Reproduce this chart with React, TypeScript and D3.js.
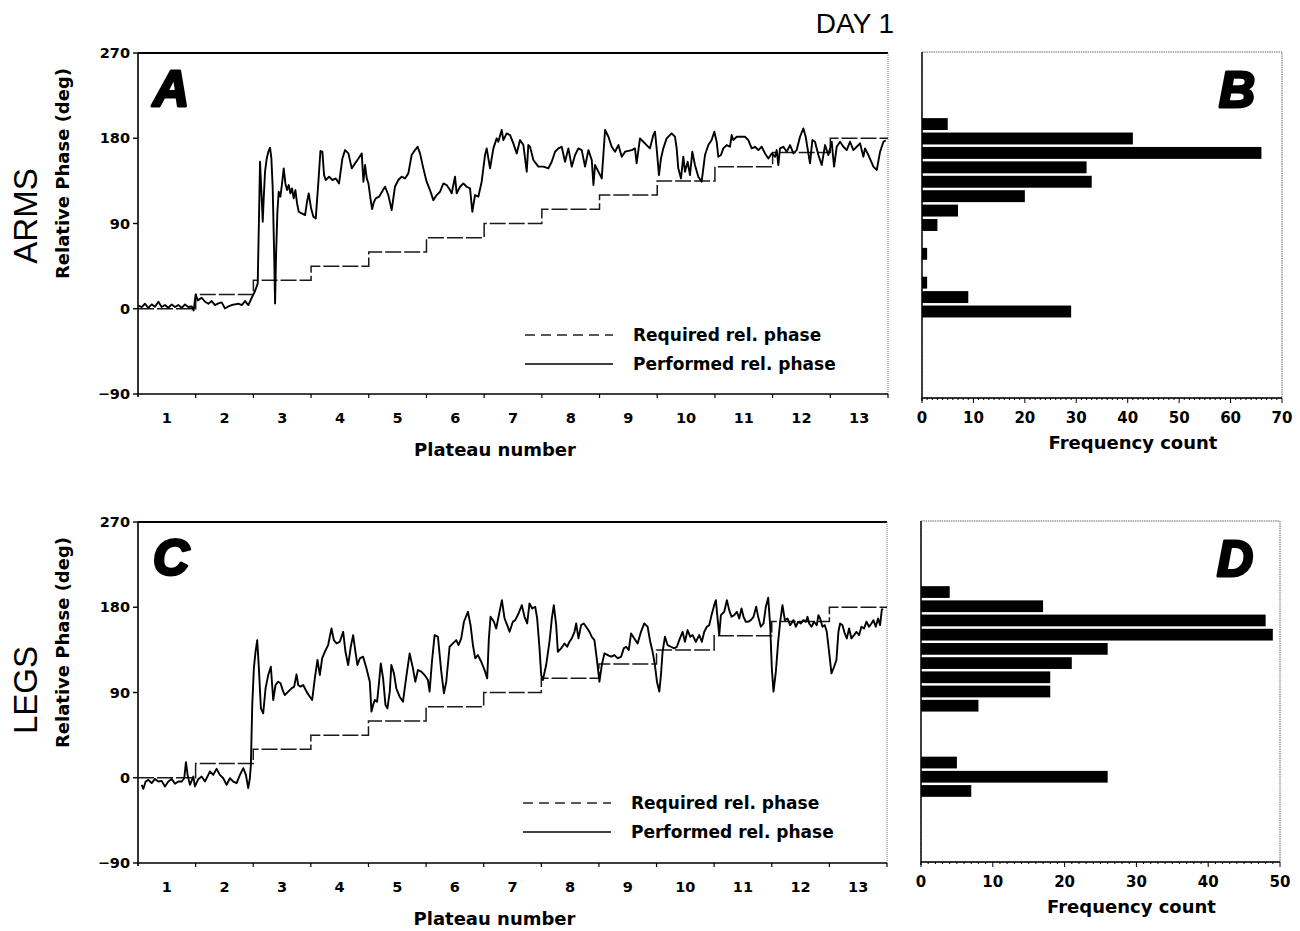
import React from 'react';
import * as d3 from 'd3';

// Plateau numbers and required relative phase (deg) for each plateau
const plateauNumbers = [1, 2, 3, 4, 5, 6, 7, 8, 9, 10, 11, 12, 13];
const requiredPhase = [0, 15, 30, 45, 60, 75, 90, 105, 120, 135, 150, 165, 180];
const phaseTicks = [-90, 0, 90, 180, 270];

// Performed relative phase, [plateau position, deg]
const armsPerformed: [number, number][] = [
  [0.006, 3.2], [0.064, 1.8], [0.121, 5.3], [0.179, 1.0], [0.237, 4.6], [0.295, 2.1], [0.353, 7.4], [0.41, 1.8],
  [0.468, 3.9], [0.526, 1.0], [0.584, 4.6], [0.642, 1.8], [0.699, 3.9], [0.757, 1.0], [0.815, 4.6], [0.873, 1.8],
  [0.931, 2.4], [0.965, -1.8], [1.0, 15.1], [1.035, 8.8], [1.104, 11.6], [1.162, 7.4], [1.22, 5.3], [1.277, 8.1],
  [1.335, 3.9], [1.393, 5.6], [1.451, 6.7], [1.509, 0.3], [1.566, 2.4], [1.624, 3.9], [1.682, 4.6], [1.74, 5.3],
  [1.798, 3.9], [1.855, 8.1], [1.913, 3.9], [1.971, 11.6], [2.029, 18.7], [2.075, 26.7], [2.098, 98.9], [2.115, 155.2],
  [2.139, 123.5], [2.162, 91.9], [2.179, 116.5], [2.202, 144.7], [2.231, 158.7], [2.26, 165.8], [2.289, 170], [2.312, 158.7],
  [2.335, 127.1], [2.358, 63.7], [2.376, 5.6], [2.393, 56.7], [2.416, 102.4], [2.439, 123.5], [2.468, 118.3], [2.497, 132.3],
  [2.526, 148.2], [2.555, 132.3], [2.584, 125.3], [2.613, 130.6], [2.641, 121.8], [2.67, 127.1], [2.699, 116.5], [2.728, 125.3],
  [2.757, 111.2], [2.786, 102.4], [2.838, 100.7], [2.896, 98.9], [2.93, 113], [2.959, 121.8], [3.0, 106], [3.04, 97.1],
  [3.081, 95.4], [3.127, 134.1], [3.162, 166.5], [3.196, 165.8], [3.225, 141.1], [3.254, 135.9], [3.312, 139.4], [3.37, 135.9],
  [3.428, 137.6], [3.485, 132.3], [3.543, 158.7], [3.589, 167.5], [3.647, 164], [3.705, 148.2], [3.763, 153.5], [3.821, 158.7],
  [3.878, 164], [3.907, 134.1], [3.936, 151.7], [3.965, 137.6], [3.994, 132.3], [4.029, 116.5], [4.058, 105.2], [4.087, 112.3],
  [4.121, 116.5], [4.179, 118.3], [4.237, 124.2], [4.283, 128.8], [4.339, 120], [4.397, 104.2], [4.454, 128.8], [4.512, 135.9],
  [4.57, 139.4], [4.628, 137.6], [4.686, 142.9], [4.743, 162.3], [4.801, 167.5], [4.847, 171], [4.888, 164], [4.946, 148.2],
  [5.003, 134.1], [5.061, 125.3], [5.119, 114.7], [5.177, 120], [5.235, 123.5], [5.293, 132.3], [5.35, 130.6], [5.408, 125.3],
  [5.437, 121.8], [5.495, 139.4], [5.524, 121.8], [5.582, 128.8], [5.639, 132.3], [5.697, 128.8], [5.755, 127.1], [5.795, 102.4],
  [5.842, 120], [5.899, 118.3], [5.957, 134.1], [6.015, 162.3], [6.044, 169.3], [6.102, 148.2], [6.16, 169.3], [6.217, 179.9],
  [6.246, 176.3], [6.304, 188.7], [6.333, 178.1], [6.391, 185.1], [6.449, 183.4], [6.506, 174.6], [6.564, 164], [6.622, 178.1],
  [6.68, 172.8], [6.738, 144.7], [6.766, 172.8], [6.795, 171], [6.853, 157], [6.94, 150], [7.027, 150], [7.113, 148.2],
  [7.171, 155.2], [7.229, 165.8], [7.287, 169.3], [7.344, 171], [7.402, 155.2], [7.46, 169.3], [7.518, 150], [7.576, 162.3],
  [7.633, 169.3], [7.691, 167.5], [7.749, 150], [7.807, 167.5], [7.865, 157], [7.894, 130.6], [7.922, 151.7], [7.98, 144.7],
  [8.038, 137.6], [8.096, 188.7], [8.154, 181.6], [8.211, 171], [8.269, 165.8], [8.327, 172.8], [8.385, 160.5], [8.443, 165.8],
  [8.558, 167.5], [8.614, 169.3], [8.643, 153.5], [8.701, 179.9], [8.759, 176.3], [8.816, 172.8], [8.874, 169.3], [8.932, 183.4],
  [8.961, 186.9], [8.99, 169.3], [9.03, 141.1], [9.065, 158.7], [9.105, 169.3], [9.163, 179.9], [9.25, 185.1], [9.308, 181.6],
  [9.337, 169.3], [9.365, 148.2], [9.412, 137.6], [9.452, 160.5], [9.481, 144.7], [9.527, 155.2], [9.568, 141.1], [9.608, 165.8],
  [9.654, 151.7], [9.712, 139.4], [9.77, 134.1], [9.828, 162.3], [9.886, 172.8], [9.943, 178.1], [9.99, 186.9], [10.03, 176.3],
  [10.059, 160.5], [10.105, 162.3], [10.146, 169.3], [10.204, 172.8], [10.261, 171], [10.29, 183.4], [10.319, 178.1], [10.377, 181.6],
  [10.435, 181.6], [10.521, 181.6], [10.579, 178.1], [10.637, 169.3], [10.695, 171], [10.753, 167.5], [10.81, 171], [10.868, 164],
  [10.926, 158.7], [10.984, 164], [11.042, 160.5], [11.071, 167.5], [11.099, 151.7], [11.128, 169.3], [11.186, 171], [11.244, 165.8],
  [11.302, 172.8], [11.36, 164], [11.417, 167.5], [11.475, 181.6], [11.533, 190.4], [11.573, 181.6], [11.62, 164], [11.648, 153.5],
  [11.689, 178.1], [11.735, 176.3], [11.793, 162.3], [11.851, 151.7], [11.909, 172.8], [11.966, 162.3], [12.024, 176.3], [12.065, 150],
  [12.111, 171], [12.169, 176.3], [12.227, 171], [12.284, 167.5], [12.342, 176.3], [12.4, 167.5], [12.458, 171], [12.516, 174.6],
  [12.573, 160.5], [12.602, 169.3], [12.66, 162.3], [12.747, 150], [12.805, 146.4], [12.863, 165.8], [12.92, 176.3], [12.961, 177.7],
];

const legsPerformed: [number, number][] = [
  [0.064, -7.5], [0.093, -11.7], [0.133, -4.0], [0.179, -2.2], [0.237, -5.7], [0.295, -1.2], [0.353, -4.0], [0.41, -3.3],
  [0.468, -9.2], [0.526, -4.0], [0.584, -1.2], [0.642, -6.4], [0.699, -4.0], [0.757, -4.0], [0.803, -0.5], [0.832, 16.4],
  [0.861, 3.0], [0.902, -7.5], [0.96, 1.3], [0.988, -9.2], [1.046, -1.5], [1.104, 1.3], [1.162, -4.0], [1.22, 3.0],
  [1.249, 6.6], [1.306, 3.0], [1.364, 9.4], [1.422, 3.0], [1.48, -0.5], [1.538, -7.5], [1.595, -0.5], [1.653, -4.0],
  [1.711, -5.7], [1.769, 3.0], [1.827, 10.1], [1.873, 3.0], [1.913, -11.0], [1.942, -0.5], [1.959, 13.6], [1.983, 76.8],
  [2.011, 115.5], [2.04, 133.0], [2.069, 145.3], [2.098, 115.5], [2.133, 73.3], [2.173, 68.0], [2.214, 94.4], [2.26, 108.4],
  [2.306, 117.2], [2.347, 82.1], [2.387, 97.9], [2.433, 101.4], [2.474, 99.7], [2.52, 90.9], [2.549, 87.4], [2.607, 90.9],
  [2.665, 94.4], [2.711, 96.2], [2.751, 109.2], [2.78, 97.9], [2.821, 96.2], [2.867, 97.9], [2.925, 90.9], [2.983, 85.6],
  [3.023, 82.1], [3.069, 104.9], [3.115, 124.3], [3.156, 108.4], [3.196, 126.0], [3.243, 133.0], [3.3, 140.1], [3.358, 157.6],
  [3.399, 145.3], [3.445, 141.8], [3.503, 143.6], [3.561, 154.1], [3.601, 133.0], [3.647, 119.0], [3.693, 138.3], [3.734, 150.6],
  [3.774, 133.0], [3.809, 119.0], [3.85, 126.0], [3.907, 127.8], [3.965, 115.5], [4.023, 101.4], [4.052, 69.8], [4.081, 76.8],
  [4.11, 82.1], [4.15, 80.3], [4.185, 101.4], [4.214, 120.7], [4.254, 104.9], [4.295, 76.8], [4.329, 73.3], [4.37, 90.9],
  [4.397, 119.0], [4.443, 110.2], [4.483, 94.4], [4.541, 85.6], [4.599, 80.3], [4.657, 106.7], [4.715, 131.3], [4.772, 115.5],
  [4.813, 101.4], [4.859, 113.7], [4.917, 112.0], [4.975, 108.4], [5.032, 103.2], [5.061, 90.9], [5.102, 122.5], [5.148, 150.6],
  [5.206, 148.8], [5.264, 112.0], [5.31, 89.1], [5.35, 101.4], [5.408, 138.3], [5.466, 141.8], [5.524, 145.3], [5.564, 140.1],
  [5.61, 147.1], [5.657, 164.7], [5.726, 175.2], [5.772, 161.1], [5.813, 140.1], [5.853, 126.0], [5.899, 129.5], [5.957, 122.5],
  [6.015, 113.7], [6.061, 104.9], [6.09, 147.1], [6.119, 169.9], [6.177, 164.7], [6.217, 157.6], [6.275, 175.2], [6.316, 187.5],
  [6.362, 168.2], [6.408, 161.1], [6.449, 154.1], [6.506, 164.7], [6.547, 166.4], [6.605, 173.4], [6.662, 182.2], [6.709, 169.9],
  [6.755, 162.9], [6.795, 184.0], [6.842, 178.7], [6.894, 180.5], [6.928, 168.2], [6.969, 136.6], [6.998, 108.4], [7.027, 103.2],
  [7.084, 119.0], [7.142, 143.6], [7.183, 168.2], [7.217, 182.2], [7.258, 161.1], [7.287, 133.0], [7.344, 136.6], [7.402, 141.8],
  [7.448, 138.3], [7.489, 143.6], [7.529, 147.1], [7.576, 154.1], [7.605, 162.9], [7.645, 147.1], [7.691, 161.1], [7.737, 162.9],
  [7.778, 159.4], [7.836, 154.1], [7.876, 148.8], [7.922, 145.3], [7.969, 122.5], [8.009, 101.4], [8.05, 119.0], [8.096, 131.3],
  [8.154, 129.5], [8.211, 127.8], [8.269, 129.5], [8.327, 126.0], [8.385, 127.8], [8.431, 136.6], [8.472, 138.3], [8.518, 134.8],
  [8.558, 152.4], [8.614, 147.1], [8.672, 141.8], [8.73, 154.1], [8.787, 162.9], [8.845, 159.4], [8.891, 143.6], [8.932, 133.0],
  [8.972, 119.0], [9.007, 101.4], [9.048, 90.9], [9.076, 108.4], [9.105, 133.0], [9.146, 148.8], [9.192, 140.1], [9.25, 138.3],
  [9.308, 136.6], [9.354, 138.3], [9.394, 145.3], [9.452, 154.1], [9.493, 143.6], [9.539, 155.9], [9.585, 148.8], [9.626, 150.6],
  [9.683, 143.6], [9.741, 150.6], [9.787, 143.6], [9.828, 154.1], [9.874, 159.4], [9.915, 161.1], [9.955, 171.7], [10.001, 182.2],
  [10.03, 187.5], [10.059, 168.2], [10.088, 150.6], [10.117, 171.7], [10.175, 175.2], [10.221, 187.5], [10.261, 177.0], [10.302, 169.9],
  [10.348, 171.7], [10.394, 175.2], [10.435, 168.2], [10.475, 178.7], [10.51, 169.9], [10.55, 164.7], [10.591, 164.7], [10.637, 166.4],
  [10.683, 169.9], [10.729, 180.5], [10.764, 169.9], [10.81, 159.4], [10.857, 162.9], [10.897, 180.5], [10.938, 190.0], [10.972, 161.1],
  [11.001, 115.5], [11.03, 90.9], [11.071, 112.0], [11.111, 143.6], [11.146, 164.7], [11.186, 182.2], [11.227, 166.4], [11.273, 168.2],
  [11.319, 161.1], [11.377, 166.4], [11.417, 159.4], [11.458, 164.7], [11.504, 162.9], [11.55, 166.4], [11.591, 164.7], [11.62, 169.9],
  [11.649, 162.9], [11.689, 159.4], [11.735, 164.7], [11.781, 161.1], [11.81, 171.7], [11.839, 168.2], [11.88, 159.4], [11.92, 161.1],
  [11.955, 154.1], [11.995, 133.0], [12.036, 110.2], [12.082, 117.2], [12.122, 124.3], [12.157, 154.1], [12.186, 162.9], [12.227, 161.1],
  [12.267, 152.4], [12.302, 147.1], [12.342, 157.6], [12.383, 147.1], [12.429, 150.6], [12.469, 154.1], [12.516, 150.6], [12.556, 159.4],
  [12.602, 157.6], [12.643, 164.7], [12.689, 159.4], [12.729, 162.9], [12.764, 166.4], [12.805, 159.4], [12.845, 168.2], [12.88, 161.1],
  [12.909, 177.0], [12.926, 178.7],
];

// Frequency histograms of performed relative phase (bin centres in deg)
const armsBins = [195, 180, 165, 150, 135, 120, 105, 90, 75, 60, 45, 30, 15, 0];
const armsCounts = [5, 41, 66, 32, 33, 20, 7, 3, 0, 1, 0, 1, 9, 29];
const legsBins = [195, 180, 165, 150, 135, 120, 105, 90, 75, 60, 45, 30, 15, 0, -15];
const legsCounts = [4, 17, 48, 49, 26, 21, 18, 18, 8, 0, 0, 0, 5, 26, 7];
const armsCountTicks = [0, 10, 20, 30, 40, 50, 60, 70];
const legsCountTicks = [0, 10, 20, 30, 40, 50];

const BOLD = "'DejaVu Sans', Verdana, sans-serif";
const PLAIN = "'Liberation Sans', Arial, sans-serif";

type Box = { left: number; right: number; top: number; bottom: number };

function PhasePanel({ box, performed, letter, legendX, legendY }: {
  box: Box; performed: [number, number][]; letter: string; legendX: number; legendY: number;
}) {
  const x = d3.scaleLinear().domain([0, 13]).range([box.left, box.right]);
  const y = d3.scaleLinear().domain([-90, 270]).range([box.bottom, box.top]);
  const stepPts: [number, number][] = requiredPhase.map((v, i) => [i, v]);
  stepPts.push([13, requiredPhase[requiredPhase.length - 1]]);
  const stepLine = d3.line<[number, number]>().x(d => x(d[0])).y(d => y(d[1])).curve(d3.curveStepAfter);
  const traceLine = d3.line<[number, number]>().x(d => x(d[0])).y(d => y(d[1]));
  const boundaries = d3.range(1, 14);
  const midY = (box.top + box.bottom) / 2;
  return (
    <g>
      {/* frame */}
      <line x1={box.left} x2={box.right} y1={box.top} y2={box.top} stroke="#000" strokeWidth={1.8} />
      <line x1={box.right} x2={box.right} y1={box.top} y2={box.bottom} stroke="#777" strokeWidth={1} strokeDasharray="1,1" />
      <line x1={box.left} x2={box.left} y1={box.top} y2={box.bottom + 3} stroke="#000" strokeWidth={1.6} />
      <line x1={box.left} x2={box.right} y1={box.bottom} y2={box.bottom} stroke="#000" strokeWidth={1.6} />
      {phaseTicks.map(t => (
        <g key={t}>
          <line x1={box.left - 5} x2={box.left} y1={y(t)} y2={y(t)} stroke="#000" strokeWidth={1.4} />
          <text x={box.left - 8} y={y(t) + 5} textAnchor="end" fontFamily={BOLD} fontWeight="bold" fontSize={14.5}>
            {t < 0 ? `\u2212${Math.abs(t)}` : t}
          </text>
        </g>
      ))}
      {boundaries.map(b => (
        <line key={b} x1={x(b)} x2={x(b)} y1={box.bottom} y2={box.bottom + 4} stroke="#000" strokeWidth={1.2} />
      ))}
      {plateauNumbers.map(p => (
        <text key={p} x={x(p - 0.5)} y={box.bottom + 29} textAnchor="middle" fontFamily={BOLD} fontWeight="bold" fontSize={14.5}>
          {p}
        </text>
      ))}
      <text x={(box.left + box.right) / 2 - 18} y={box.bottom + 62} textAnchor="middle" fontFamily={BOLD} fontWeight="bold" fontSize={18}>
        Plateau number
      </text>
      <text transform={`translate(${box.left - 69},${midY - 50}) rotate(-90)`} textAnchor="middle" fontFamily={BOLD} fontWeight="bold" fontSize={18}>
        Relative Phase (deg)
      </text>
      {/* required and performed relative phase */}
      <path d={stepLine(stepPts) || ''} fill="none" stroke="#1a1a1a" strokeWidth={1.5} strokeDasharray="16,3" />
      <path d={traceLine(performed) || ''} fill="none" stroke="#000" strokeWidth={1.9} strokeLinejoin="round" />
      {/* panel letter */}
      <text x={box.left + 15} y={box.top + 53} fontFamily={PLAIN} fontWeight="900" fontStyle="italic" fontSize={50}
        stroke="#000" strokeWidth={3} strokeLinejoin="round">
        {letter}
      </text>
      {/* legend */}
      <line x1={legendX} x2={legendX + 88} y1={legendY} y2={legendY} stroke="#222" strokeWidth={1.3} strokeDasharray="10,6" />
      <text x={legendX + 108} y={legendY + 6} fontFamily={BOLD} fontWeight="bold" fontSize={17}>Required rel. phase</text>
      <line x1={legendX} x2={legendX + 88} y1={legendY + 29} y2={legendY + 29} stroke="#000" strokeWidth={1.4} />
      <text x={legendX + 108} y={legendY + 35} fontFamily={BOLD} fontWeight="bold" fontSize={17}>Performed rel. phase</text>
    </g>
  );
}

function HistPanel({ box, bins, counts, maxCount, countTicks, letter }: {
  box: Box; bins: number[]; counts: number[]; maxCount: number; countTicks: number[]; letter: string;
}) {
  const x = d3.scaleLinear().domain([0, maxCount]).range([box.left, box.right]);
  const y = d3.scaleLinear().domain([-90, 270]).range([box.bottom, box.top]);
  const halfBar = 6.2;
  const minor = d3.range(0, maxCount + 0.5, 1);
  return (
    <g>
      <rect x={box.left} y={box.top} width={box.right - box.left} height={box.bottom - box.top}
        fill="none" stroke="#666" strokeWidth={1} strokeDasharray="1.5,0.8" />
      <line x1={box.left} x2={box.left} y1={box.top} y2={box.bottom + 3} stroke="#000" strokeWidth={1.4} />
      <line x1={box.left} x2={box.right} y1={box.bottom} y2={box.bottom} stroke="#000" strokeWidth={1.4} />
      {minor.map(m => (
        <line key={m} x1={x(m)} x2={x(m)} y1={box.bottom} y2={box.bottom + (m % 10 === 0 ? 5 : 2)} stroke="#000" strokeWidth={1} />
      ))}
      {countTicks.map(t => (
        <text key={t} x={x(t)} y={box.bottom + 25} textAnchor="middle" fontFamily={BOLD} fontWeight="bold" fontSize={15}>{t}</text>
      ))}
      <text x={(box.left + box.right) / 2 + 31} y={box.bottom + 51} textAnchor="middle" fontFamily={BOLD} fontWeight="bold" fontSize={18}>
        Frequency count
      </text>
      {bins.map((b, i) => counts[i] > 0 && (
        <rect key={b} x={x(0)} y={y(b + halfBar)} width={x(counts[i]) - x(0)} height={y(b - halfBar) - y(b + halfBar)} fill="#000" />
      ))}
      <text x={box.right - 63} y={box.top + 55} fontFamily={PLAIN} fontWeight="900" fontStyle="italic" fontSize={50}
        stroke="#000" strokeWidth={3} strokeLinejoin="round">
        {letter}
      </text>
    </g>
  );
}

export default function App() {
  return (
    <svg width={1300} height={931} style={{ position: 'absolute', left: 0, top: 0, background: '#fff' }}>
      <rect width={1300} height={931} fill="#fff" />
      <text x={855} y={33} textAnchor="middle" fontFamily={PLAIN} fontSize={28}>DAY 1</text>
      <text transform="translate(37,216) rotate(-90)" textAnchor="middle" fontFamily={PLAIN} fontSize={33}>ARMS</text>
      <text transform="translate(37,690) rotate(-90)" textAnchor="middle" fontFamily={PLAIN} fontSize={33}>LEGS</text>
      <PhasePanel box={{ left: 138, right: 888, top: 53, bottom: 394 }} performed={armsPerformed} letter="A" legendX={525} legendY={335} />
      <PhasePanel box={{ left: 138, right: 887, top: 522, bottom: 863 }} performed={legsPerformed} letter="C" legendX={523} legendY={803} />
      <HistPanel box={{ left: 922, right: 1282, top: 52, bottom: 398 }} bins={armsBins} counts={armsCounts} maxCount={70} countTicks={armsCountTicks} letter="B" />
      <HistPanel box={{ left: 921, right: 1280, top: 521, bottom: 862 }} bins={legsBins} counts={legsCounts} maxCount={50} countTicks={legsCountTicks} letter="D" />
    </svg>
  );
}
